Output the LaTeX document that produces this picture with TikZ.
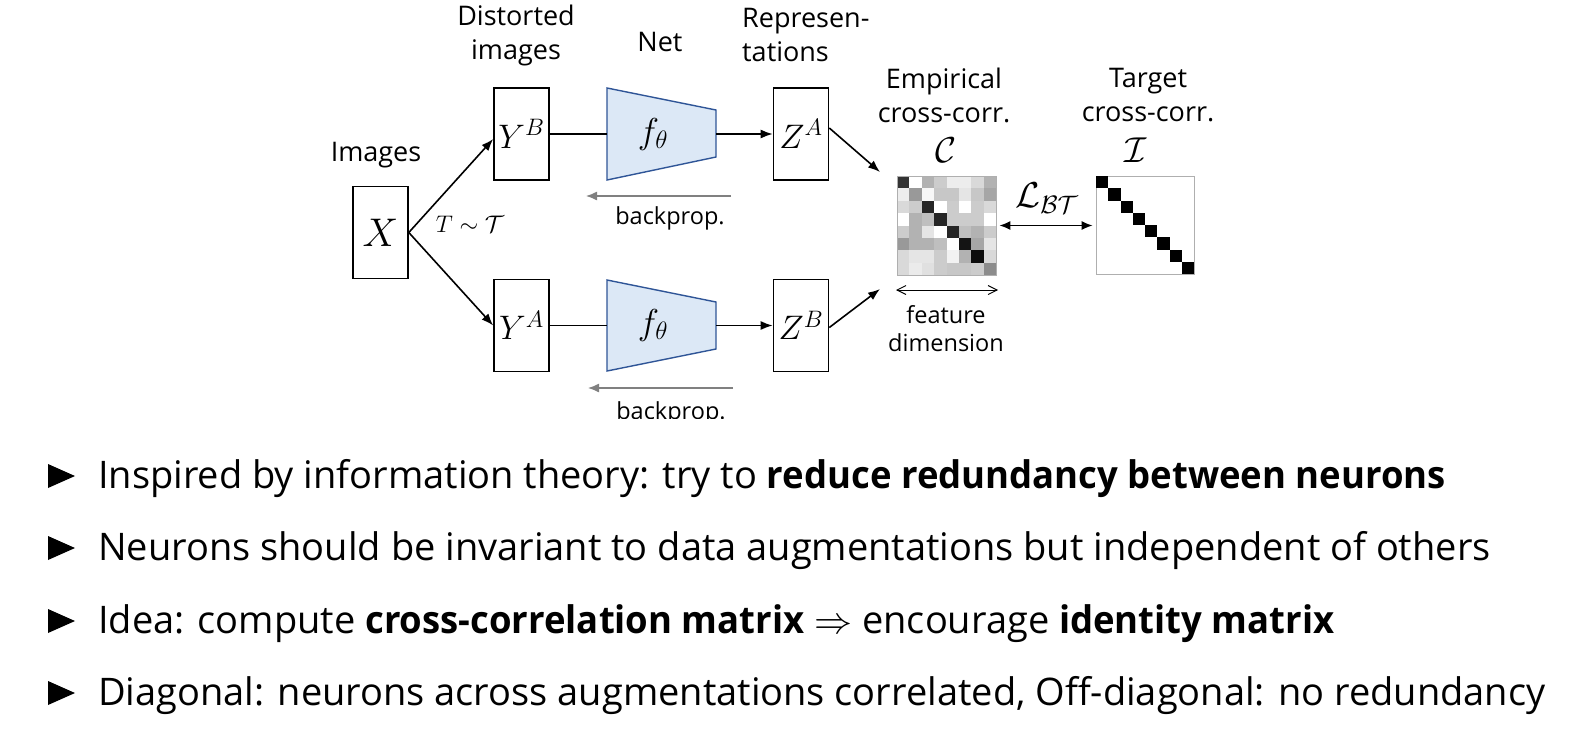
\RequirePackage{fix-cm}
\documentclass[tikz,border=0pt]{standalone}
\usepackage{fontspec}
\setmainfont{Open Sans}[BoldFeatures={FakeStretch=0.96}]
\usetikzlibrary{arrows.meta}
\definecolor{netfill}{RGB}{220,232,246}
\definecolor{netdraw}{RGB}{47,85,151}
\definecolor{bpgray}{RGB}{128,128,128}
\definecolor{bordergray}{RGB}{175,175,175}
\begin{document}
\begin{tikzpicture}[x=1pt,y=-1pt,
  box/.style={draw, line width=1.6pt, minimum width=55pt, minimum height=92pt, inner sep=0pt},
  lbl/.style={font=\fontsize{27}{34}\selectfont, align=center, inner sep=0pt},
  small/.style={font=\fontsize{23.5}{28}\selectfont, align=center, inner sep=0pt},
  arr/.style={line width=1.6pt, -{Latex[length=12pt,width=9pt]}},
  bparr/.style={draw=bpgray, line width=1.3pt, -{Latex[length=11pt,width=9pt]}},
  net/.style={fill=netfill, draw=netdraw, line width=1.4pt},
  bullet/.style={anchor=base west, inner sep=0pt, font=\fontsize{38}{40}\selectfont},
  tri/.style={fill=black}
]
\useasboundingbox (0,0) rectangle (1569,734);

% labels
\node[lbl] (limages) at (376,155) {Images};
\node[lbl] (ldist) at (516,35) {Distorted\\images};
\node[lbl] (lnet) at (660,42) {Net};
\node[lbl, align=left, anchor=west] (lrep) at (742,35) {Represen-\\tations};
\node[lbl] (lemp) at (944,95) {Empirical\\cross-corr.};
\node[lbl] (ltar) at (1148,95) {Target\\cross-corr.};
\node[inner sep=0pt] (lC) at (946,150) {\fontsize{36}{36}\selectfont$\mathcal{C}$};
\node[inner sep=0pt] (lI) at (1136,150) {\fontsize{36}{36}\selectfont$\mathcal{I}$};

% boxes
\node[box] (X) at (380.5,232.5) {\fontsize{40}{40}\selectfont$X$};
\node[box] (YB) at (521.5,134) {\fontsize{34}{34}\selectfont$Y^B$};
\node[box] (YA) at (521.5,325.5) {\fontsize{34}{34}\selectfont$Y^A$};
\node[box] (ZA) at (801,134) {\fontsize{34}{34}\selectfont$Z^A$};
\node[box] (ZB) at (801,325.5) {\fontsize{34}{34}\selectfont$Z^B$};

% nets
\draw[net] (607,88) -- (716,110) -- (716,157) -- (607,180) -- cycle;
\draw[net] (607,280) -- (716,302) -- (716,349) -- (607,371) -- cycle;
\node (F1) at (653,134) {\fontsize{36}{36}\selectfont$f_\theta$};
\node (F2) at (653,325.5) {\fontsize{36}{36}\selectfont$f_\theta$};
\coordinate (N1w) at (607,134);
\coordinate (N1e) at (716,134);
\coordinate (N2w) at (607,325.5);
\coordinate (N2e) at (716,325.5);

% connectors
\draw[arr] (X.east) -- ([yshift=-5pt]YB.west);
\draw[arr] (X.east) -- (YA.west);
\node[inner sep=0pt] (T) at (470,224) {\fontsize{24}{24}\selectfont$T\sim\mathcal{T}$};
\draw[line width=1.6pt] (YB.east) -- (N1w);
\draw[line width=1.6pt] (YA.east) -- (N2w);
\draw[arr] (N1e) -- (ZA.west);
\draw[arr] (N2e) -- (ZB.west);
\coordinate (c1) at (880,172);
\coordinate (c2) at (880,289);
\draw[arr] ([yshift=6pt]ZA.east) -- (c1);
\draw[arr] ([yshift=-2pt]ZB.east) -- (c2);

% backprop
\coordinate (b1s) at (731,196);
\coordinate (b1e) at (586,196);
\coordinate (b2s) at (733,388);
\coordinate (b2e) at (588,388);
\draw[bparr] (b1s) -- (b1e);
\draw[bparr] (b2s) -- (b2e);
\node[small] (bp1) at (670,218) {backprop.};
\begin{scope}
\clip (560,380) rectangle (760,418);
\node[small, anchor=base] (bp2) at (671,419) {backprop.};
\end{scope}

% matrix C
\def\cs{12.375}
\foreach \row [count=\i from 0] in {
 {20,100,70,80,93,93,85,70},
 {93,60,97,78,78,90,78,65},
 {85,80,15,100,80,100,80,85},
 {100,70,75,15,80,80,80,100},
 {80,70,90,100,15,75,70,80},
 {60,70,70,75,100,8,65,90},
 {85,90,90,80,95,70,5,85},
 {85,92,88,80,78,78,80,55}} {
  \foreach \g [count=\j from 0] in \row {
    \fill[black!\the\numexpr100-\g\relax!white] (897+\j*\cs,176+\i*\cs) rectangle ++(\cs,\cs);
  }
}
\node[draw=bordergray, line width=0.8pt, minimum size=99pt, inner sep=0pt] (C) at (946.5,225.5) {};

% matrix I
\node[draw=bordergray, line width=0.8pt, minimum size=98pt, inner sep=0pt] (I) at (1145,225.5) {};
\foreach \k in {0,...,7} {
  \fill[black] (1096+\k*12.25,176+\k*12.25) rectangle ++(12.25,12.25);
}

% loss arrow
\draw[line width=1.4pt, {Latex[length=11pt,width=9pt]}-{Latex[length=11pt,width=9pt]}] ([xshift=3pt]C.east) -- ([xshift=-3pt]I.west);
\node[inner sep=0pt] (L) at (1047,198) {\fontsize{36}{36}\selectfont$\mathcal{L}_{\mathcal{BT}}$};

% feature dimension
\coordinate (fd1) at (896,290);
\coordinate (fd2) at (998,290);
\draw[line width=0.9pt, {Straight Barb[length=9pt,width=9pt]}-{Straight Barb[length=9pt,width=9pt]}] (fd1) -- (fd2);
\node[small] (fdim) at (946,329) {feature\\dimension};

% bullets
\foreach \y [count=\n] in {476,548,621,693} {
  \fill[tri] (48,\y-12) -- (75,\y) -- (48,\y+12) -- cycle;
}
\node[bullet] (t1) at (98,488) {Inspired by information theory: try to \textbf{reduce redundancy between neurons}};
\node[bullet] (t2) at (98,560) {Neurons should be invariant to data augmentations but independent of others};
\node[bullet] (t3) at (98,633) {Idea: compute \textbf{cross-correlation matrix} $\Rightarrow$ encourage \textbf{identity matrix}};
\node[bullet] (t4) at (98,705) {Diagonal: neurons across augmentations correlated, Off-diagonal: no redundancy};
\end{tikzpicture}
\end{document}
